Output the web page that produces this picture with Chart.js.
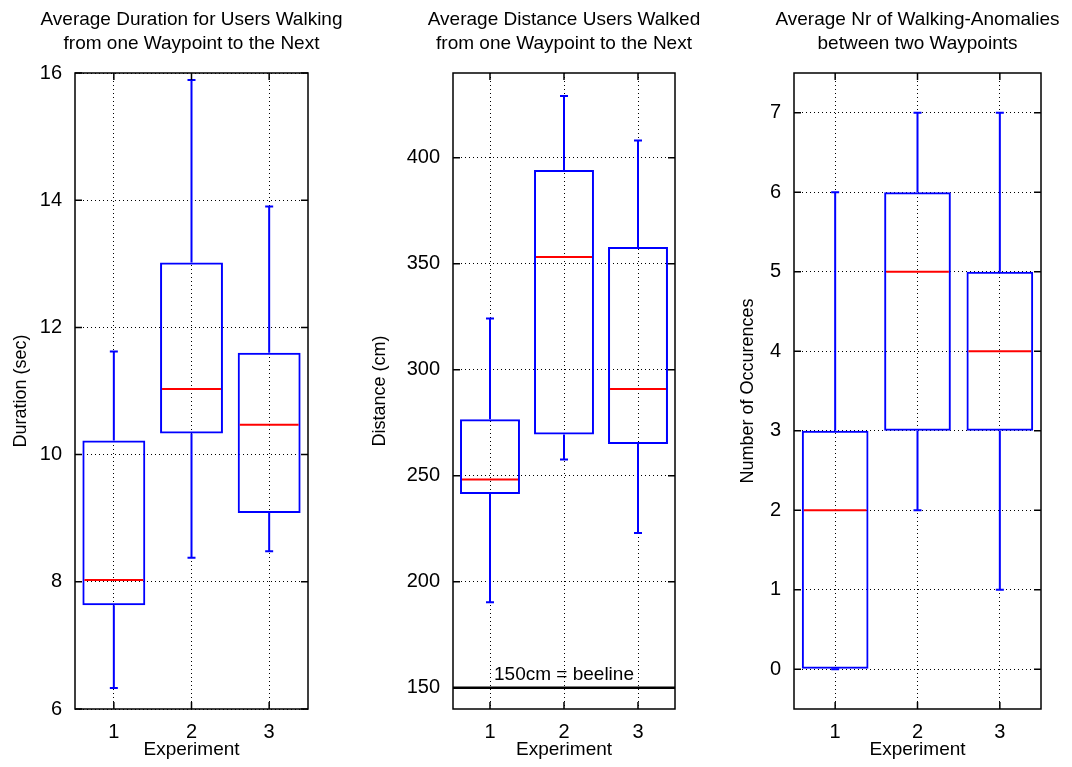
<!DOCTYPE html>
<html lang="en">
<head>
    <meta charset="UTF-8">
    <title>Walking between Waypoints</title>
    <script src="https://cdn.jsdelivr.net/npm/chart.js"></script>
    <style>
        body { margin: 0; background: #fff; }
        #wrap { position: relative; width: 1072px; height: 767px; }
        canvas { position: absolute; top: 0; }
    </style>
</head>
<body>
    <div id="wrap">
        <canvas id="durationChart" width="360" height="767" style="left:0"></canvas>
        <canvas id="distanceChart" width="360" height="767" style="left:360px"></canvas>
        <canvas id="anomalyChart" width="352" height="767" style="left:720px"></canvas>
    </div>

    <script>
        const experiments = ['1', '2', '3'];

        // Duration per experiment (sec)
        const durationMin = [6.33, 8.38, 8.48];
        const durationQ1 = [7.63, 10.33, 9.08];
        const durationMedian = [8.03, 11.03, 10.47];
        const durationQ3 = [10.22, 13.02, 11.6];
        const durationMax = [11.62, 15.89, 13.9];
        const durationTicks = [6, 8, 10, 12, 14, 16];

        // Distance per experiment (cm)
        const distanceMin = [190.4, 257.7, 223];
        const distanceQ1 = [241.4, 269.5, 265];
        const distanceMedian = [248.3, 353.2, 290.9];
        const distanceQ3 = [276.7, 394.3, 357.9];
        const distanceMax = [324.2, 429.2, 408.2];
        const distanceTicks = [150, 200, 250, 300, 350, 400];
        const beelineValue = 150;
        const beelineLabel = '150cm = beeline';

        // Walking anomalies per experiment
        const anomalyMin = [0, 2, 1];
        const anomalyQ1 = [0, 3, 3];
        const anomalyMedian = [2, 5, 4];
        const anomalyQ3 = [3, 6, 5];
        const anomalyMax = [6, 7, 7];
        const anomalyTicks = [0, 1, 2, 3, 4, 5, 6, 7];

        const BLUE = '#0000ff';
        const RED = '#ff0000';
        const FONT = '"Liberation Sans", Arial, Helvetica, sans-serif';
        Chart.defaults.font.family = FONT;
        Chart.defaults.color = '#000';

        // two-line title centred over the plot area (Chart.js title would squeeze it)
        const plotTitle = {
            id: 'plotTitle',
            afterDraw(chart, args, opts) {
                const { ctx, chartArea: a } = chart;
                ctx.save();
                ctx.font = '19px ' + FONT;
                ctx.fillStyle = '#000';
                ctx.textAlign = 'center';
                ctx.textBaseline = 'alphabetic';
                opts.text.forEach((line, i) => {
                    ctx.fillText(line, (a.left + a.right) / 2, 25 + i * 24);
                });
                ctx.restore();
            }
        };

        // whiskers, caps and the red median line, placed from the bar elements
        const boxPlot = {
            id: 'boxPlot',
            afterDatasetsDraw(chart) {
                const { ctx, scales: { y } } = chart;
                const ds = chart.data.datasets[0];
                const meta = chart.getDatasetMeta(0);
                ctx.save();
                meta.data.forEach((bar, i) => {
                    const half = bar.width / 2;
                    const yMin = y.getPixelForValue(ds.whiskerMin[i]);
                    const yMax = y.getPixelForValue(ds.whiskerMax[i]);
                    const yQ1 = y.getPixelForValue(ds.data[i][0]);
                    const yQ3 = y.getPixelForValue(ds.data[i][1]);
                    ctx.strokeStyle = BLUE;
                    ctx.lineWidth = 2;
                    ctx.beginPath();
                    ctx.moveTo(bar.x, yQ3); ctx.lineTo(bar.x, yMax);
                    ctx.moveTo(bar.x, yQ1); ctx.lineTo(bar.x, yMin);
                    ctx.moveTo(bar.x - 4, yMax); ctx.lineTo(bar.x + 4, yMax);
                    ctx.moveTo(bar.x - 4, yMin); ctx.lineTo(bar.x + 4, yMin);
                    ctx.stroke();

                    const yMed = y.getPixelForValue(ds.median[i]);
                    ctx.strokeStyle = RED;
                    ctx.beginPath();
                    ctx.moveTo(bar.x - half + 2, yMed);
                    ctx.lineTo(bar.x + half - 2, yMed);
                    ctx.stroke();
                });
                ctx.restore();
            }
        };

        // horizontal reference line with a label above it
        const refLine = {
            id: 'refLine',
            afterDatasetsDraw(chart, args, opts) {
                if (opts.value === undefined) return;
                const { ctx, chartArea: a, scales: { y } } = chart;
                const py = y.getPixelForValue(opts.value);
                ctx.save();
                ctx.strokeStyle = '#000';
                ctx.lineWidth = 2.5;
                ctx.beginPath();
                ctx.moveTo(a.left, py);
                ctx.lineTo(a.right, py);
                ctx.stroke();
                ctx.font = '19px ' + FONT;
                ctx.fillStyle = '#000';
                ctx.textAlign = 'center';
                ctx.textBaseline = 'alphabetic';
                ctx.fillText(opts.label, (a.left + a.right) / 2, py - 8);
                ctx.restore();
            }
        };

        // black frame with inward tick marks on all four sides
        const frame = {
            id: 'frame',
            afterDraw(chart) {
                const { ctx, chartArea: a, scales: { x, y } } = chart;
                ctx.save();
                ctx.strokeStyle = '#000';
                ctx.lineWidth = 1.5;
                ctx.strokeRect(a.left, a.top, a.right - a.left, a.bottom - a.top);
                ctx.beginPath();
                y.ticks.forEach(t => {
                    const py = y.getPixelForValue(t.value);
                    ctx.moveTo(a.left, py); ctx.lineTo(a.left + 7, py);
                    ctx.moveTo(a.right, py); ctx.lineTo(a.right - 7, py);
                });
                x.ticks.forEach((t, i) => {
                    const px = x.getPixelForTick(i);
                    ctx.moveTo(px, a.bottom); ctx.lineTo(px, a.bottom - 7);
                    ctx.moveTo(px, a.top); ctx.lineTo(px, a.top + 7);
                });
                ctx.stroke();
                ctx.restore();
            }
        };

        function makeBoxChart(id, p) {
            return new Chart(document.getElementById(id), {
                type: 'bar',
                data: {
                    labels: experiments,
                    datasets: [{
                        data: experiments.map((_, i) => [p.q1[i], p.q3[i]]),
                        median: p.median,
                        whiskerMin: p.min,
                        whiskerMax: p.max,
                        backgroundColor: 'rgba(0,0,0,0)',
                        borderColor: BLUE,
                        borderWidth: 2,
                        borderSkipped: false,
                        barPercentage: 0.81,
                        categoryPercentage: 1
                    }]
                },
                options: {
                    responsive: false,
                    animation: false,
                    layout: { padding: { right: p.rightPad, top: 73, bottom: 0, left: 0 } },
                    plugins: {
                        legend: { display: false },
                        tooltip: { enabled: false },
                        title: { display: false },
                        plotTitle: { text: p.title },
                        refLine: p.refLine || {}
                    },
                    scales: {
                        x: {
                            afterFit: s => { s.height = 58; },
                            grid: { offset: false, color: '#000', lineWidth: 1, drawTicks: false },
                            border: { display: false, dash: [1, 3] },
                            ticks: { font: { size: 20 }, padding: 11, color: '#000' },
                            title: { display: true, text: 'Experiment', font: { size: 19 }, color: '#000', padding: { top: 0, bottom: 6 } }
                        },
                        y: {
                            min: p.yMin,
                            max: p.yMax,
                            afterFit: s => { s.width = p.yWidth; },
                            afterBuildTicks: s => { s.ticks = p.ticks.map(v => ({ value: v })); },
                            grid: { color: '#000', lineWidth: 1, drawTicks: false },
                            border: { display: false, dash: [1, 3] },
                            ticks: { font: { size: 20 }, padding: 13, color: '#000' },
                            title: { display: true, text: p.yTitle, font: { size: 18 }, color: '#000', padding: { top: p.yTitlePad, bottom: 0 } }
                        }
                    }
                },
                plugins: [boxPlot, refLine, frame, plotTitle]
            });
        }

        makeBoxChart('durationChart', {
            title: ['Average Duration for Users Walking', 'from one Waypoint to the Next'],
            yTitle: 'Duration (sec)',
            min: durationMin, q1: durationQ1, median: durationMedian, q3: durationQ3, max: durationMax,
            ticks: durationTicks, yMin: 6, yMax: 16,
            yWidth: 75, yTitlePad: 10, rightPad: 52
        });

        makeBoxChart('distanceChart', {
            title: ['Average Distance Users Walked', 'from one Waypoint to the Next'],
            yTitle: 'Distance (cm)',
            min: distanceMin, q1: distanceQ1, median: distanceMedian, q3: distanceQ3, max: distanceMax,
            ticks: distanceTicks, yMin: 140, yMax: 440,
            yWidth: 93, yTitlePad: 9, rightPad: 45,
            refLine: { value: beelineValue, label: beelineLabel }
        });

        makeBoxChart('anomalyChart', {
            title: ['Average Nr of Walking-Anomalies', 'between two Waypoints'],
            yTitle: 'Number of Occurences',
            min: anomalyMin, q1: anomalyQ1, median: anomalyMedian, q3: anomalyQ3, max: anomalyMax,
            ticks: anomalyTicks, yMin: -0.5, yMax: 7.5,
            yWidth: 74, yTitlePad: 17, rightPad: 31
        });
    </script>
</body>
</html>
